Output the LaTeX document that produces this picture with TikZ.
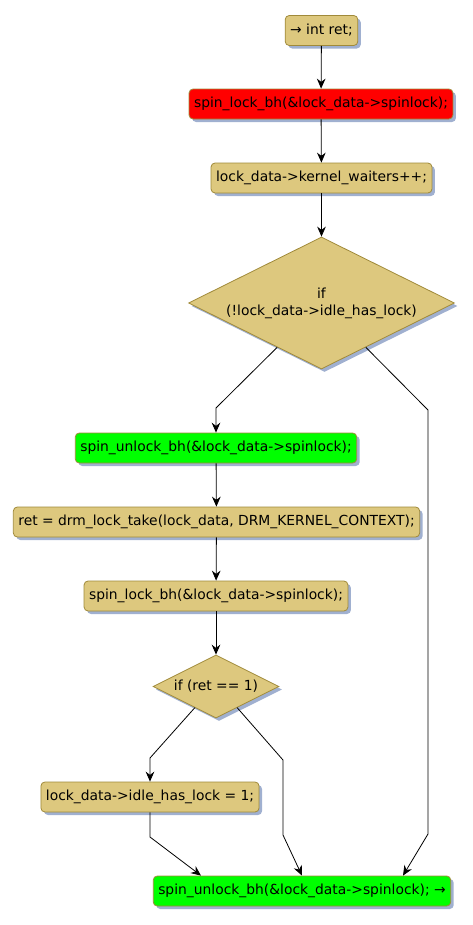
\documentclass[tikz,border=0pt]{standalone}
\usepackage{fontspec}
\setmainfont{DejaVu Sans}
\usetikzlibrary{shapes.geometric,arrows.meta,shadows}
\definecolor{tan}{RGB}{221,200,126}
\definecolor{olive}{RGB}{160,138,58}
\definecolor{shade}{RGB}{160,176,208}
\definecolor{pred}{RGB}{255,0,0}
\definecolor{pgreen}{RGB}{0,255,0}
\begin{document}
\begin{tikzpicture}[x=0.75pt,y=-0.75pt,
  font=\fontsize{10.4}{12.8}\selectfont,
  act/.style={draw=olive,fill=tan,rounded corners=3pt,line width=0.6pt,
    minimum height=22.5pt,inner xsep=3.75pt,inner ysep=0pt,
    drop shadow={shadow xshift=2.25pt,shadow yshift=-2.25pt,fill=shade,opacity=1}},
  redact/.style={act,fill=pred},
  greenact/.style={act,fill=pgreen},
  cond/.style={diamond,aspect=2,draw=olive,fill=tan,line width=0.6pt,inner sep=0pt,align=center,
    drop shadow={shadow xshift=2.25pt,shadow yshift=-2.25pt,fill=shade,opacity=1}},
  flow/.style={draw=black,line width=0.6pt,-{Stealth[length=7.5pt,width=6.5pt,inset=2.5pt]}},
  ]
\useasboundingbox (0,0) rectangle (473,925);
\node[act] (n1) at (321.5,30.5) {→ int ret;};
\node[redact] (n2) at (321,104) {spin\_lock\_bh(\&lock\_data->spinlock);};
\node[act] (n3) at (321.5,178) {lock\_data->kernel\_waiters++;};
\node[cond,minimum width=199.5pt,minimum height=99pt] (d1) at (321.5,303)
  {if\\(!lock\_data->idle\_has\_lock)};
\node[greenact] (n4) at (216,448) {spin\_unlock\_bh(\&lock\_data->spinlock);};
\node[act] (n5) at (216.5,522) {ret = drm\_lock\_take(lock\_data, DRM\_KERNEL\_CONTEXT);};
\node[act] (n6) at (216,596) {spin\_lock\_bh(\&lock\_data->spinlock);};
\node[cond,minimum width=94.5pt,minimum height=47.25pt] (d2) at (216,686.5) {if (ret == 1)};
\node[act] (n7) at (150,797) {lock\_data->idle\_has\_lock = 1;};
\node[greenact] (n8) at (302,891) {spin\_unlock\_bh(\&lock\_data->spinlock); →};

\draw[flow] (n1) -- (n2);
\draw[flow] (n2) -- (n3);
\draw[flow] (n3) -- (d1);
\draw[flow] (d1.225) -- (n4.north |- 0,408) -- (n4.north);
\draw[flow] (d1.-45) -- (428,410) -- (428,834) -- ([xshift=75.75pt]n8.north);
\draw[flow] (n4) -- (n5);
\draw[flow] (n5) -- (n6);
\draw[flow] (n6) -- (d2);
\draw[flow] (d2.225) -- (n7.north |- 0,758) -- (n7.north);
\draw[flow] (d2.-45) -- (283,760) -- (283,835) -- (n8.north);
\draw[flow] (n7.south) -- (n7.south |- 0,837) -- ([xshift=-75.75pt]n8.north);
\end{tikzpicture}
\end{document}
